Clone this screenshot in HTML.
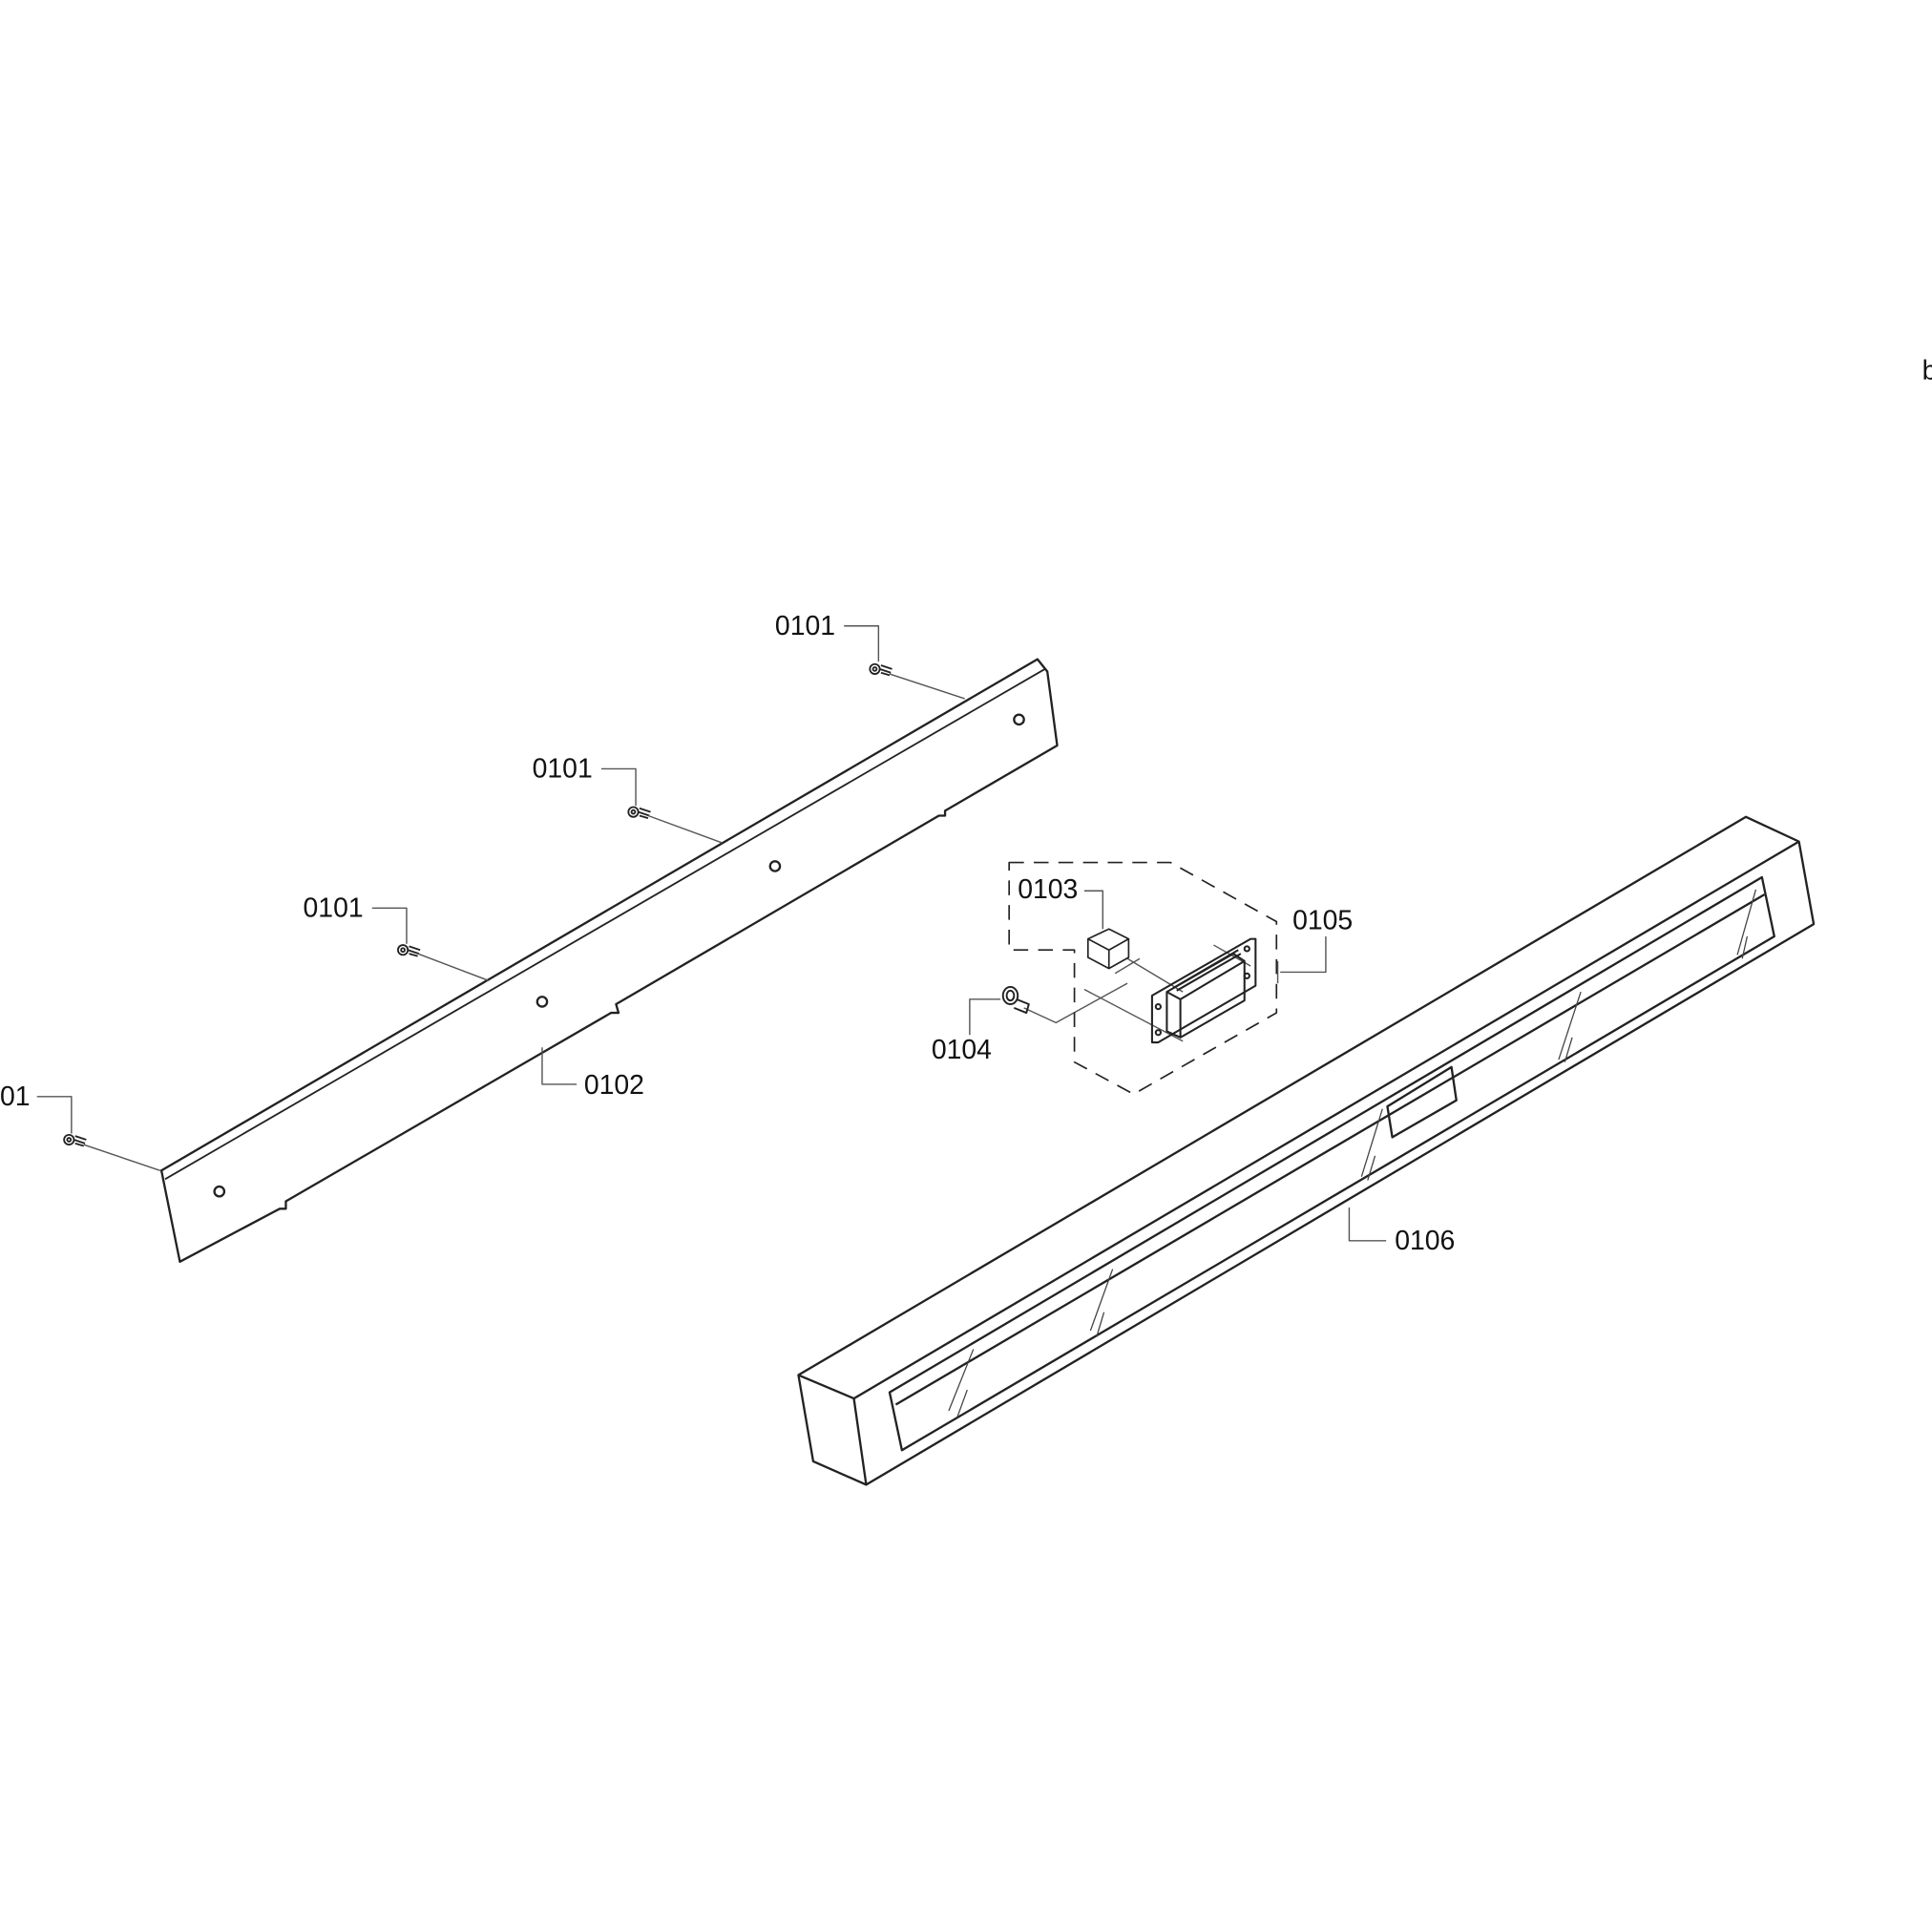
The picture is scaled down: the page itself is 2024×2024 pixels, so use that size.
<!DOCTYPE html>
<html><head><meta charset="utf-8"><style>html,body{margin:0;padding:0;background:#fff}svg{display:block}</style></head>
<body>
<svg width="2024" height="2024" viewBox="0 0 1568 1568" xmlns="http://www.w3.org/2000/svg" font-family="Liberation Sans, sans-serif" font-size="22" fill="none" stroke="#222" stroke-width="1.8" stroke-linejoin="round">
<!-- left bar 0102 -->
<path d="M131,950 L842,535 L850,545 L858,605 L767,658 L767,662 L762,662 L500,815 L502,822 L496,822 L232,975 L232,981 L227,981 L146,1024 L131,950 Z"/>
<path d="M134,957 L848,543" stroke-width="1.4"/>
<circle cx="178" cy="967" r="4"/><circle cx="440" cy="813" r="4"/><circle cx="629" cy="703" r="4"/><circle cx="827" cy="584" r="4"/>
<!-- screws -->
<g stroke-width="1.4">
<circle cx="56" cy="925" r="4"/><circle cx="56" cy="925" r="1.5"/><path d="M60,925 L69,928 M61,922 L70,925 M61,928 L68,930"/>
<circle cx="327" cy="771" r="4"/><circle cx="327" cy="771" r="1.5"/><path d="M331,771 L340,774 M332,768 L341,771 M332,774 L339,776"/>
<circle cx="514" cy="659" r="4"/><circle cx="514" cy="659" r="1.5"/><path d="M518,659 L527,662 M519,656 L528,659 M519,662 L526,664"/>
<circle cx="710" cy="543" r="4"/><circle cx="710" cy="543" r="1.5"/><path d="M714,543 L723,546 M715,540 L724,543 M715,546 L722,548"/>
</g>
<g stroke="#555" stroke-width="1.1">
<path d="M68,929 L130,950"/><path d="M339,774 L397,796"/><path d="M526,662 L586,684"/><path d="M722,547 L783,567"/>
<path d="M685,508 L713,508 L713,537"/><path d="M488,624 L516,624 L516,654"/><path d="M302,737 L330,737 L330,766"/><path d="M30,890 L58,890 L58,920"/>
<path d="M440,850 L440,880 L468,880"/>
<path d="M1095,980 L1095,1007 L1125,1007"/>
<path d="M880,723 L895,723 L895,754"/>
<path d="M1076,760 L1076,789 L1039,789 M1037,780 L1037,798"/>
<path d="M787,840 L787,811 L812,811"/>
<path d="M831,818 L857,830 L915,798 M880,803 L960,845 M905,790 L925,778 M915,778 L960,805 M985,767 L1015,784"/>
</g>
<!-- labels -->
<g fill="#111" stroke="none">
<text x="629" y="515">0101</text><text x="432" y="631">0101</text><text x="246" y="744">0101</text><text x="0" y="897">01</text>
<text x="474" y="888">0102</text><text x="826" y="729">0103</text><text x="756" y="859">0104</text><text x="1049" y="754">0105</text><text x="1132" y="1014">0106</text>
<text x="1560" y="308">b</text>
</g>
<!-- dashed group 0105 -->
<path d="M819,700 L950,700 L1036,748 L1036,822 L920,888 L872,862 L872,771 L819,771 Z" stroke-dasharray="12,8" stroke-width="1.3"/>
<!-- cube -->
<path d="M883,762 L900,754 L916,762 L916,777 L900,786 L883,777 Z M883,762 L900,771 L916,762 M900,771 L900,786" stroke-width="1.3"/>
<!-- connector -->
<g stroke-width="1.6">
<path d="M935,808 L1015,762 L1019,762 L1019,800 L940,846 L935,846 Z"/>
<path d="M947,805 L1001,774 L1010,780 L1010,812 L958,842 L947,837 Z M947,805 L958,811 L1010,780 M958,811 L958,842"/>
<path d="M952,802 L1005,771 M955,804 L1007,774"/>
<circle cx="940" cy="817" r="2"/><circle cx="940" cy="838" r="2"/><circle cx="1012" cy="770" r="2"/><circle cx="1012" cy="792" r="2"/>
</g>
<!-- screw 0104 -->
<g stroke-width="1.5"><ellipse cx="820" cy="808" rx="6" ry="7"/><ellipse cx="820" cy="808" rx="3" ry="4"/><path d="M825,811 L835,815 L833,822 L823,818"/></g>
<!-- right bar 0106 -->
<g stroke-width="1.8">
<path d="M648,1116 L1417,663 L1460,683 L1472,750 L703,1205 L660,1186 Z"/>
<path d="M648,1116 L693,1135 L703,1205 M693,1135 L1460,683"/>
<path d="M722,1130 L1430,712 L1440,760 L732,1177 Z"/>
<path d="M727,1140 L1432,726"/>
<path d="M1126,898 L1178,866 L1182,893 L1130,923 Z"/>
</g>
<g stroke="#444" stroke-width="1">
<path d="M770,1145 L790,1095 M777,1150 L785,1128"/>
<path d="M885,1080 L903,1030 M890,1085 L896,1065"/>
<path d="M1105,955 L1122,900 M1110,958 L1116,938"/>
<path d="M1265,860 L1283,805 M1270,862 L1276,842"/>
<path d="M1410,775 L1425,722 M1414,778 L1418,760"/>
</g>
</svg>
</body></html>
